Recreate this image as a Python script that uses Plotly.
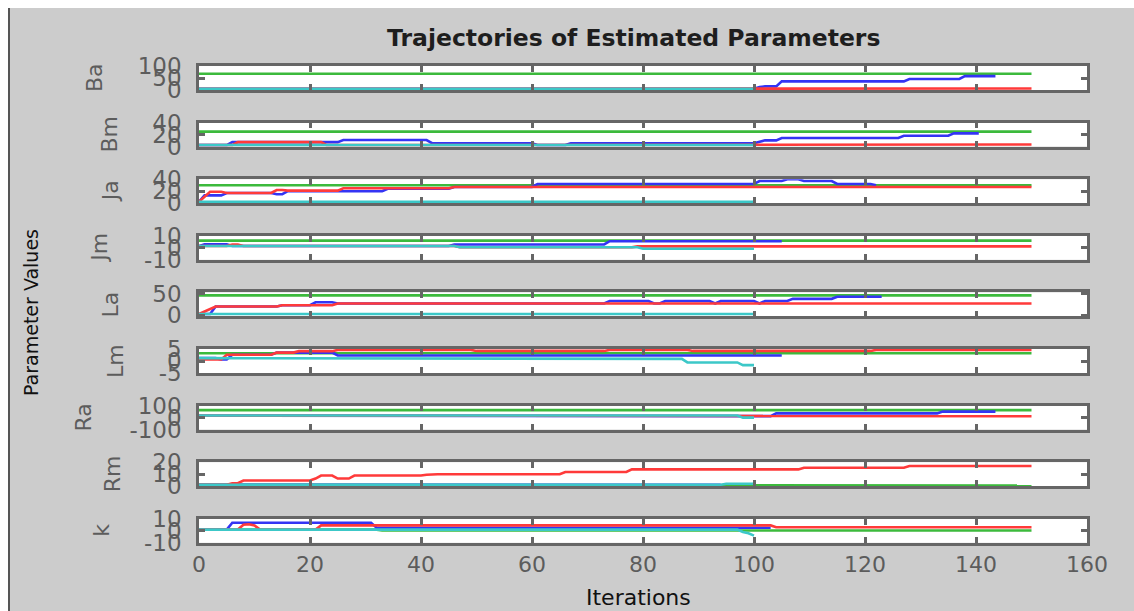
import plotly.graph_objects as go

# Iteration axis
ITER_RANGE = [0, 160]
ITER_TICKS = [0, 20, 40, 60, 80, 100, 120, 140, 160]

# One panel per estimated parameter
PARAMS = ["Ba", "Bm", "Ja", "Jm", "La", "Lm", "Ra", "Rm", "k"]
Y_RANGES = [[0, 100], [0, 40], [0, 40], [-10, 10], [-3, 53],
            [-5, 5], [-100, 100], [0, 20], [-10, 10]]
Y_TICKS = [[0, 50, 100], [0, 20, 40], [0, 20, 40], [-10, 0, 10], [0, 50],
           [-5, 0, 5], [-100, 0, 100], [0, 10, 20], [-10, 0, 10]]

# Trajectories as [iteration, value] points
ba_green = [[0, 68], [150, 68]]
ba_blue = [[0, 5], [100, 5], [101, 12], [102, 15], [104, 15], [105, 36], [127, 36],
           [128, 46], [137, 46], [138, 58], [143.5, 58]]
ba_red = [[0, 5], [100, 5], [101, 6], [150, 6]]
ba_cyan = [[0, 5], [100, 5]]

bm_green = [[0, 25], [150, 25]]
bm_blue = [[0, 2.5], [5, 2.5], [6, 7.5], [25, 7.5], [26, 11], [41, 11], [42, 5.7],
           [60, 5.7], [61, 2.5], [66, 2.5], [67, 5.7], [100, 5.7], [102, 10.4],
           [104, 10.4], [105, 14.4], [126, 14.4], [127, 18], [135, 18], [136, 22],
           [140.5, 22]]
bm_red = [[0, 2.5], [6, 2.5], [7, 7.5], [22, 7.5], [23, 2.5], [100, 2.5], [101, 3.5],
          [150, 3.5]]
bm_cyan = [[0, 2.5], [100, 2.5]]

ja_green = [[0, 30], [150, 30]]
ja_blue = [[0, 2.5], [1, 13], [4, 13], [5, 17], [13, 17], [14, 15], [15, 15], [16, 20],
           [33, 20], [34, 24], [45, 24], [46, 27], [60, 27], [61, 32], [100, 32],
           [101, 37], [105, 37], [106, 40], [108, 40], [109, 37], [114, 37], [115, 32],
           [121, 32], [122, 30]]
ja_red = [[0, 2.5], [2, 19], [4, 19], [5, 17], [13, 17], [14, 22], [15, 22], [16, 21],
          [25, 21], [26, 25], [45, 25], [46, 27], [150, 27]]
ja_cyan = [[0, 2.5], [100, 2.5]]

jm_green = [[0, 6], [150, 6]]
jm_blue = [[0, 1.5], [1, 3], [5, 3], [6, 1.5], [45, 1.5], [46, 2.8], [73, 2.8],
           [74, 5.5], [105, 5.5]]
jm_red = [[0, 1.5], [5, 1.5], [6, 2.8], [7, 2.8], [8, 1.5], [46, 1.5], [47, 0.5],
          [78, 0.5], [79, 1.2], [150, 1.2]]
jm_cyan = [[0, 1.5], [46, 1.5], [47, 0.5], [79, 0.5], [80, -0.8], [100, -0.8]]

la_green = [[0, 46], [150, 46]]
la_blue = [[0, 2.5], [2, 2.5], [3, 20], [14, 20], [15, 23], [20, 23], [21, 30],
           [24, 30], [25, 27], [73, 27], [74, 33], [81, 33], [82, 27], [83, 27],
           [84, 33], [92, 33], [93, 27], [94, 33], [100, 33], [101, 27], [102, 33],
           [106, 33], [107, 38], [114, 38], [115, 43], [123, 43]]
la_red = [[0, 2.5], [3, 20], [14, 20], [15, 23], [24, 23], [25, 27], [150, 27]]
la_cyan = [[0, 2.5], [100, 2.5]]

lm_green = [[0, 3.2], [150, 3.2]]
lm_blue = [[0, 1.2], [3, 1.2], [4, 0.6], [5, 0.6], [6, 2.6], [13, 2.6], [14, 3.5],
           [24, 3.5], [25, 2.3], [105, 2.3]]
lm_red = [[0, 0.6], [4, 0.6], [5, 2.6], [13, 2.6], [14, 3.5], [17, 3.5], [18, 4.1],
          [24, 4.1], [25, 4.6], [49, 4.6], [50, 4.2], [73, 4.2], [74, 4.6], [88, 4.6],
          [89, 4.2], [121, 4.2], [122, 4.6], [150, 4.6]]
lm_cyan = [[0, 1.2], [25, 1.2], [26, 0.9], [87, 0.9], [88, -0.6], [97, -0.6],
           [98, -1.7], [100, -1.7]]

ra_green = [[0, 62], [150, 62]]
ra_blue = [[0, 17], [97, 17], [98, 12], [103, 12], [104, 35], [133, 35], [134, 50],
           [143.5, 50]]
ra_red = [[0, 17], [97, 17], [98, 12], [150, 12]]
ra_cyan = [[0, 17], [97, 17], [98, 0], [100, 0]]

rm_green = [[0, 1.2], [93, 1.2], [94, 0.6], [150, 0.6]]
rm_blue = [[0, 1.2], [94, 1.2]]
rm_red = [[0, 1.2], [5, 1.2], [6, 2.5], [7, 2.5], [8, 4.7], [20, 4.7], [21, 6.4],
          [22, 8.9], [24, 8.9], [25, 6.4], [27, 6.4], [28, 8.9], [40, 8.9], [41, 9.6],
          [43, 9.9], [65, 9.9], [66, 11.8], [77, 11.8], [78, 14], [108, 14], [109, 15.4],
          [127, 15.4], [128, 16.8], [150, 16.8]]
rm_cyan = [[0, 1.2], [94, 1.2], [95, 2.0], [100, 2.0]]

k_green = [[0, 1], [32, 1], [33, 0.2], [150, 0.2]]
k_blue = [[0, 1], [5, 1], [6, 6.7], [31, 6.7], [32, 2.5], [103, 2.5]]
k_red = [[0, 1], [7, 1], [8, 5], [9, 5.5], [10, 4.5], [11, 1], [21, 1], [22, 4.5],
         [103, 4.5], [104, 3], [150, 3]]
k_cyan = [[0, 1], [97, 1], [98, -1], [99, -2], [100, -4]]

SERIES = {
    "Ba": [ba_green, ba_blue, ba_red, ba_cyan],
    "Bm": [bm_green, bm_blue, bm_red, bm_cyan],
    "Ja": [ja_green, ja_blue, ja_red, ja_cyan],
    "Jm": [jm_green, jm_blue, jm_red, jm_cyan],
    "La": [la_green, la_blue, la_red, la_cyan],
    "Lm": [lm_green, lm_blue, lm_red, lm_cyan],
    "Ra": [ra_green, ra_blue, ra_red, ra_cyan],
    "Rm": [rm_green, rm_blue, rm_red, rm_cyan],
    "k": [k_green, k_blue, k_red, k_cyan],
}
LINE_COLORS = ["#3cba3c", "#3434f4", "#ff3a3a", "#3cc8c8"]

W, H = 1134, 611
FONT = "DejaVu Sans"
FRAME = "#666666"
TICK_TEXT = "#5c5c5c"
# horizontal centre (px) of each rotated parameter name
NAME_X = [95, 110, 110, 100, 110, 115, 84, 112, 102]

fig = go.Figure()
layout = dict(
    width=W, height=H,
    margin=dict(l=0, r=0, t=0, b=0, autoexpand=False),
    paper_bgcolor="#cccccc",
    plot_bgcolor="#ffffff",
    showlegend=False,
    font=dict(family=FONT, size=22, color=TICK_TEXT),
)

annotations = []
x0, x1 = 199 / W, 1087 / W
for i, name in enumerate(PARAMS):
    top = 66 + 56.6 * i
    bottom = top + 24
    sfx = "" if i == 0 else str(i + 1)
    last = i == len(PARAMS) - 1
    layout["xaxis" + sfx] = dict(
        domain=[x0, x1], anchor="y" + sfx, range=ITER_RANGE, automargin=False,
        tickvals=ITER_TICKS, ticks="inside", ticklen=6, tickwidth=2.5,
        tickcolor=FRAME, showline=True, linecolor=FRAME, linewidth=2.5,
        mirror="ticks", showgrid=False, zeroline=False,
        showticklabels=last, tickfont=dict(size=22, color=TICK_TEXT),
    )
    layout["yaxis" + sfx] = dict(
        domain=[1 - bottom / H, 1 - top / H], anchor="x" + sfx, automargin=False,
        range=Y_RANGES[i], tickvals=Y_TICKS[i],
        ticktext=[str(v) for v in Y_TICKS[i]],
        ticks="inside", ticklen=6,
        tickwidth=2.5, tickcolor=FRAME, showline=True, linecolor=FRAME,
        linewidth=2.5, mirror="ticks", showgrid=False, zeroline=False,
        ticklabelstandoff=10, tickfont=dict(size=23, color=TICK_TEXT),
    )
    annotations.append(dict(
        text=name, x=NAME_X[i] / W, y=1 - (top + 12) / H, xref="paper",
        yref="paper", xanchor="center", yanchor="middle", showarrow=False,
        textangle=-90, font=dict(size=22, color=TICK_TEXT),
    ))
    for pts, color in zip(SERIES[name], LINE_COLORS):
        fig.add_trace(go.Scatter(
            x=[p[0] for p in pts], y=[p[1] for p in pts], mode="lines",
            line=dict(color=color, width=2.6), hoverinfo="skip",
            xaxis="x" + sfx, yaxis="y" + sfx,
        ))

annotations += [
    dict(text="<b>Trajectories of Estimated Parameters</b>", x=633 / W, y=1 - 38 / H,
         xref="paper", yref="paper", xanchor="center", yanchor="middle",
         showarrow=False, font=dict(size=23.5, color="#1e1e1e")),
    dict(text="Iterations", x=638 / W, y=1 - 597 / H, xref="paper", yref="paper",
         xanchor="center", yanchor="middle", showarrow=False,
         font=dict(size=22, color="#111111")),
    dict(text="Parameter Values", x=31 / W, y=1 - 313 / H, xref="paper",
         yref="paper", xanchor="center", yanchor="middle", showarrow=False,
         textangle=-90, font=dict(size=19, color="#111111")),
]
layout["annotations"] = annotations
layout["shapes"] = [
    dict(type="rect", xref="paper", yref="paper", x0=0, x1=1, y0=1 - 8 / H, y1=1,
         fillcolor="#ffffff", line=dict(width=0), layer="above"),
    dict(type="rect", xref="paper", yref="paper", x0=0, x1=8 / W, y0=0, y1=1,
         fillcolor="#ffffff", line=dict(width=0), layer="above"),
    dict(type="line", xref="paper", yref="paper", x0=9 / W, x1=9 / W, y0=0,
         y1=1 - 8 / H, line=dict(color="#555555", width=2)),
]
fig.update_layout(**layout)
fig.write_html("out.html")
